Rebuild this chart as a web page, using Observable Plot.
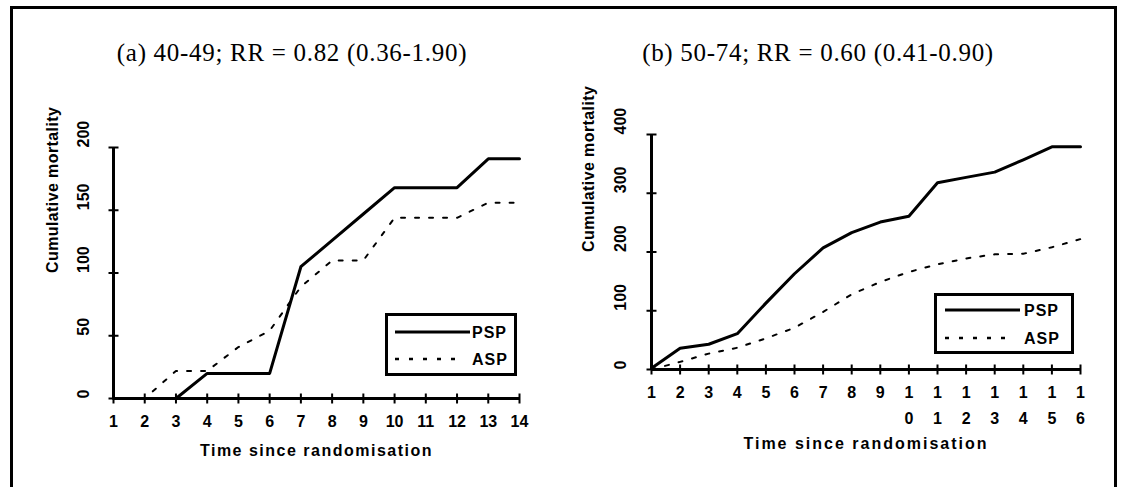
<!DOCTYPE html>
<html>
<head>
<meta charset="utf-8">
<script src="https://cdn.jsdelivr.net/npm/d3@7"></script>
<script src="https://cdn.jsdelivr.net/npm/@observablehq/plot@0.6"></script>
<style>
  html, body { margin: 0; padding: 0; background: #fff; }
  #root { position: relative; width: 1121px; height: 487px; overflow: hidden; background: #fff; }
  .frame { position: absolute; left: 10px; top: 6px; width: 1107px; height: 600px; border: 3px solid #000; box-sizing: border-box; }
  .title { position: absolute; top: 40px; font-family: "Liberation Serif", "Times New Roman", serif; font-size: 25px; line-height: 25px; letter-spacing: 0.7px; color: #000; white-space: nowrap; text-align: center; width: 420px; }
  .legend { position: absolute; border: 3px solid #000; box-sizing: border-box; background: #fff; }
  .legend svg { position: absolute; left: 0; top: 0; overflow: visible; }
</style>
</head>
<body>
<div id="root">
  <div class="frame"></div>
</div>
<script>
// ---------- data ----------
const titleA = "(a) 40-49; RR = 0.82 (0.36-1.90)";
const titleB = "(b) 50-74; RR = 0.60 (0.41-0.90)";
const xTitle = "Time since randomisation";
const yTitle = "Cumulative mortality";
const seriesNames = ["PSP", "ASP"];

const timeA = [1, 2, 3, 4, 5, 6, 7, 8, 9, 10, 11, 12, 13, 14];
const pspA  = [0, 0, 0, 20, 20, 20, 105, 126, 147, 168, 168, 168, 191, 191];
const aspA  = [0, 0, 22, 22, 41, 54, 89, 110, 110, 144, 144, 144, 156, 156];
const xLabelsA = ["1","2","3","4","5","6","7","8","9","10","11","12","13","14"];
const yTicksA = [0, 50, 100, 150, 200];

const timeB = [1, 2, 3, 4, 5, 6, 7, 8, 9, 10, 11, 12, 13, 14, 15, 16];
const pspB  = [2, 36, 43, 61, 113, 163, 207, 233, 251, 261, 318, 327, 336, 357, 379, 379];
const aspB  = [0, 13, 27, 37, 53, 71, 98, 128, 149, 166, 179, 189, 196, 197, 208, 222];
const xLabelsB = ["1","2","3","4","5","6","7","8","9","1\n0","1\n1","1\n2","1\n3","1\n4","1\n5","1\n6"];
const yTicksB = [0, 100, 200, 300, 400];

// ---------- helpers ----------
const SANS = "Liberation Sans, Arial, sans-serif";
const vTick = {draw(ctx) { ctx.moveTo(0, -5); ctx.lineTo(0, 5); }};
const hTick = {draw(ctx) { ctx.moveTo(-5, 0); ctx.lineTo(5, 0); }};

function panel({time, psp, asp, xLabels, yTicks, yMax, left, width, margins, xLabelDy, lineHeight, xTitleDy, yLabelDx, yTitleDx, xTitleSpacing}) {
  const psData = time.map((t, i) => ({t, v: psp[i]}));
  const asData = time.map((t, i) => ({t, v: asp[i]}));
  const xTickData = time.map((t, i) => ({t, label: xLabels[i]}));
  const textStyle = {fontFamily: SANS, fontWeight: "bold", fontSize: 16, fill: "#000"};
  const svg = Plot.plot({
    width, height: 487,
    marginLeft: margins[0], marginRight: margins[1], marginTop: margins[2], marginBottom: margins[3],
    x: {type: "linear", domain: [time[0], time[time.length - 1]], axis: null},
    y: {type: "linear", domain: [0, yMax], axis: null},
    style: {position: "absolute", left: left + "px", top: "0px", background: "transparent", overflow: "visible", color: "#000"},
    marks: [
      Plot.line(asData, {x: "t", y: "v", stroke: "#000", strokeWidth: 2, strokeDasharray: "4 10"}),
      Plot.line(psData, {x: "t", y: "v", stroke: "#000", strokeWidth: 3}),
      Plot.ruleY([0], {stroke: "#000", strokeWidth: 3}),
      Plot.ruleX([time[0]], {stroke: "#000", strokeWidth: 3}),
      Plot.dot(time, {x: d => d, frameAnchor: "bottom", symbol: vTick, fill: "none", stroke: "#000", strokeWidth: 2}),
      Plot.dot(yTicks, {y: d => d, frameAnchor: "left", symbol: hTick, fill: "none", stroke: "#000", strokeWidth: 2}),
      Plot.text(xTickData, {x: "t", text: "label", frameAnchor: "bottom", dy: xLabelDy, lineAnchor: "top", lineHeight, ...textStyle}),
      Plot.text(yTicks, {y: d => d, text: d => String(d), frameAnchor: "left", dx: yLabelDx, rotate: -90, ...textStyle}),
      Plot.text([xTitle], {text: d => d, frameAnchor: "bottom", dy: xTitleDy, lineAnchor: "middle", ...textStyle}),
      Plot.text([yTitle], {text: d => d, frameAnchor: "left", dx: yTitleDx, rotate: -90, lineAnchor: "middle", ...textStyle})
    ]
  });
  svg.querySelectorAll("text").forEach(t => {
    if (t.textContent === xTitle) t.setAttribute("letter-spacing", xTitleSpacing);
    if (t.textContent === yTitle) t.setAttribute("letter-spacing", 0.4);
  });
  return svg;
}

const root = document.getElementById("root");

const plotA = panel({
  time: timeA, psp: pspA, asp: aspA, xLabels: xLabelsA, yTicks: yTicksA, yMax: 200,
  left: 0, width: 560, margins: [113, 41, 147, 89],
  xLabelDy: 17, lineHeight: 1, xTitleDy: 52, yLabelDx: -30, yTitleDx: -61, xTitleSpacing: 1.5
});
const plotB = panel({
  time: timeB, psp: pspB, asp: aspB, xLabels: xLabelsB, yTicks: yTicksB, yMax: 400,
  left: 560, width: 561, margins: [91, 41, 134, 118],
  xLabelDy: 10, lineHeight: 1.625, xTitleDy: 74, yLabelDx: -31, yTitleDx: -63, xTitleSpacing: 2
});
root.appendChild(plotA);
root.appendChild(plotB);

// titles
function addTitle(text, cx) {
  const d = document.createElement("div");
  d.className = "title";
  d.textContent = text;
  d.style.left = (cx - 210) + "px";
  root.appendChild(d);
}
addTitle(titleA, 292);
addTitle(titleB, 818);

// legends
function addLegend(box, rows) {
  const d = document.createElement("div");
  d.className = "legend";
  d.style.left = box.left + "px"; d.style.top = box.top + "px";
  d.style.width = box.w + "px"; d.style.height = box.h + "px";
  const ns = "http://www.w3.org/2000/svg";
  const svg = document.createElementNS(ns, "svg");
  svg.setAttribute("width", box.w - 6); svg.setAttribute("height", box.h - 6);
  rows.forEach((r, i) => {
    const ln = document.createElementNS(ns, "line");
    ln.setAttribute("x1", r.x1); ln.setAttribute("x2", r.x2);
    ln.setAttribute("y1", r.y); ln.setAttribute("y2", r.y);
    ln.setAttribute("stroke", "#000");
    ln.setAttribute("stroke-width", i === 0 ? 3 : 2.5);
    if (i === 1) ln.setAttribute("stroke-dasharray", "4 10");
    svg.appendChild(ln);
    const tx = document.createElementNS(ns, "text");
    tx.setAttribute("x", r.tx); tx.setAttribute("y", r.y);
    tx.setAttribute("dy", "0.35em");
    tx.setAttribute("font-family", SANS);
    tx.setAttribute("font-weight", "bold");
    tx.setAttribute("font-size", 16);
    tx.setAttribute("letter-spacing", 1);
    tx.textContent = seriesNames[i];
    svg.appendChild(tx);
  });
  d.appendChild(svg);
  root.appendChild(d);
}
addLegend({left: 385, top: 313, w: 132, h: 63}, [
  {x1: 7, x2: 82, y: 16, tx: 84},
  {x1: 7, x2: 72, y: 43, tx: 84}
]);
addLegend({left: 934, top: 293, w: 140, h: 61}, [
  {x1: 8, x2: 83, y: 14, tx: 87},
  {x1: 8, x2: 77, y: 42, tx: 87}
]);
</script>
</body>
</html>
